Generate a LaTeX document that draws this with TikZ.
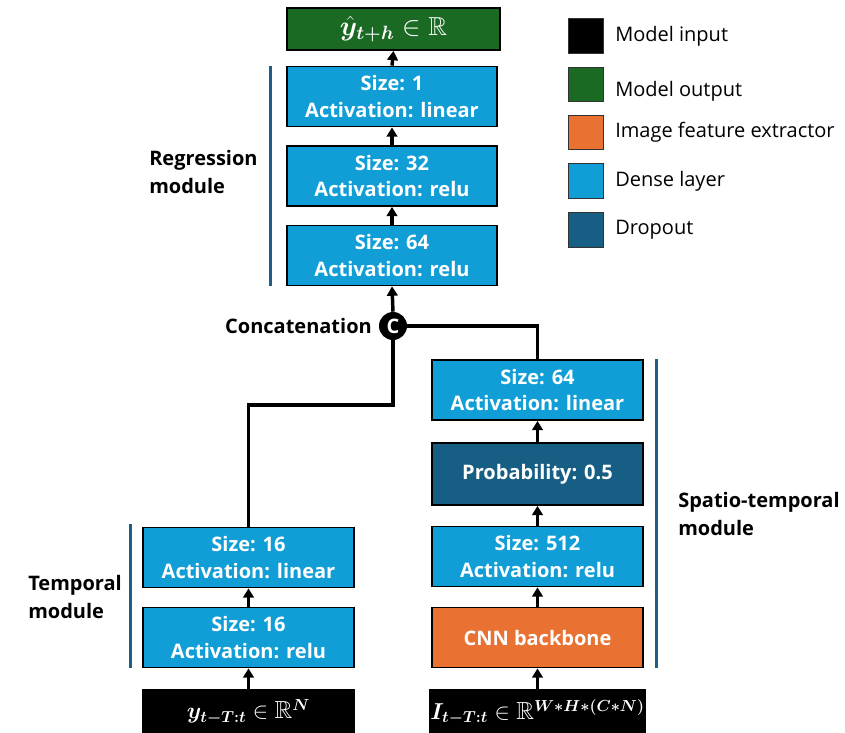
\documentclass[tikz,border=0pt]{standalone}
\usepackage{amsmath,amssymb}
\usepackage{bm}
\usepackage[no-math]{fontspec}
\setmainfont{Open Sans}
\usepackage{tikz}
\usetikzlibrary{arrows.meta, positioning, calc}

\definecolor{densecol}{RGB}{17,158,214}
\definecolor{dropcol}{RGB}{22,94,131}
\definecolor{cnncol}{RGB}{233,113,50}
\definecolor{outcol}{RGB}{27,106,36}
\definecolor{barcol}{RGB}{26,96,136}

\begin{document}
\begin{tikzpicture}[x=0.75pt, y=-0.75pt,
    layer/.style={draw=black, line width=1.3pt, minimum width=158pt, minimum height=45pt,
      inner sep=0pt, align=center, text=white, font=\fontsize{15}{20}\selectfont\bfseries},
    dense/.style={layer, fill=densecol},
    drop/.style={layer, fill=dropcol},
    cnn/.style={layer, fill=cnncol},
    inbox/.style={layer, fill=black, minimum height=33pt, font=\fontsize{18.5}{20}\selectfont},
    outbox/.style={layer, fill=outcol, minimum width=160pt, minimum height=31.5pt, font=\fontsize{19.5}{20}\selectfont},
    arr/.style={line width=2.6pt, -{Triangle[width=8pt, length=7pt]}},
    wire/.style={line width=2.6pt},
    modbar/.style={line width=2.4pt, barcol},
    modlabel/.style={align=left, font=\fontsize{15}{21}\selectfont\bfseries, inner sep=0pt},
    legbox/.style={draw=black!80, line width=0.9pt, minimum size=26pt, inner sep=0pt},
    legtext/.style={anchor=west, font=\fontsize{15}{18}\selectfont, inner sep=0pt}]
  \useasboundingbox (0,0) rectangle (845,732);

  % output and regression module
  \node[outbox] (out) at (393.5,29) {$\hat{\bm{y}}_{\bm{t+h}} \in \mathbb{R}$};
  \node[dense] (reg1) at (392,96.5) {Size: 1\\Activation: linear};
  \node[dense] (reg2) at (392,176) {Size: 32\\Activation: relu};
  \node[dense] (reg3) at (392,255.5) {Size: 64\\Activation: relu};

  % concatenation
  \node[circle, fill=black, minimum size=21pt, inner sep=0pt, text=white,
        font=\fontsize{15}{15}\selectfont\bfseries] (cat) at (393,326) {C};
  \node[modlabel, left=5pt of cat] (catlab) {Concatenation};

  % temporal module
  \node[dense] (tmp1) at (248.5,557.5) {Size: 16\\Activation: linear};
  \node[dense] (tmp2) at (248.5,637.5) {Size: 16\\Activation: relu};
  \node[inbox] (inseq) at (248.5,712) {$\bm{y}_{\bm{t-T:t}} \in \mathbb{R}^{\bm{N}}$};

  % spatio-temporal module
  \node[dense] (st1) at (537.5,390) {Size: 64\\Activation: linear};
  \node[drop, minimum height=46.5pt] (drop1) at (537.5,474) {Probability: 0.5};
  \node[dense] (st2) at (537.5,556.5) {Size: 512\\Activation: relu};
  \node[cnn] (cnn1) at (537.5,637.5) {CNN backbone};
  \node[inbox] (inimg) at (537.5,712) {$\bm{I}_{\bm{t-T:t}} \in \mathbb{R}^{\bm{W*H*(C*N)}}$};

  % arrows
  \draw[arr] (reg1.north) -- (out.south);
  \draw[arr] (reg2.north) -- (reg1.south);
  \draw[arr] (reg3.north) -- (reg2.south);
  \draw[arr] (cat.north) -- (reg3.south);
  \draw[arr] (tmp1.north |- tmp2.north) -- (tmp1.south);
  \draw[arr] (inseq.north) -- (tmp2.south);
  \draw[arr] (drop1.north) -- (st1.south);
  \draw[arr] (st2.north) -- (drop1.south);
  \draw[arr] (cnn1.north) -- (st2.south);
  \draw[arr] (inimg.north) -- (cnn1.south);
  \coordinate (lbend) at (248.5,405);
  \draw[wire] (tmp1.north) -- (lbend) -| (cat.south);
  \draw[wire] (st1.north) |- (cat.east);

  % module bars and labels
  \draw[modbar] ($(reg1.north west)+(-15,0)$) -- ($(reg3.south west)+(-15,0)$);
  \draw[modbar] ($(tmp1.north west)+(-12,-3)$) -- ($(tmp2.south west)+(-12,0)$);
  \draw[modbar] ($(st1.north east)+(13,0)$) -- ($(cnn1.south east)+(13,0)$);
  \node[modlabel, anchor=west] (reglab) at (149,172) {Regression\\module};
  \node[modlabel, anchor=west] (tmplab) at (28,597) {Temporal\\module};
  \node[modlabel, anchor=west] (stlab) at (678,514) {Spatio-temporal\\module};

  % legend
  \node[legbox, fill=black] (lg1) at (586,36) {};
  \node[legbox, fill=outcol] (lg2) at (586,84.5) {};
  \node[legbox, fill=cnncol] (lg3) at (586,132.5) {};
  \node[legbox, fill=densecol] (lg4) at (586,181) {};
  \node[legbox, fill=dropcol] (lg5) at (586,230) {};
  \node[legtext] (lt1) at (615,36) {Model input};
  \node[legtext] (lt2) at (615,91) {Model output};
  \node[legtext] (lt3) at (615,132.5) {Image feature extractor};
  \node[legtext] (lt4) at (615,181) {Dense layer};
  \node[legtext] (lt5) at (615,230) {Dropout};
\end{tikzpicture}
\end{document}
